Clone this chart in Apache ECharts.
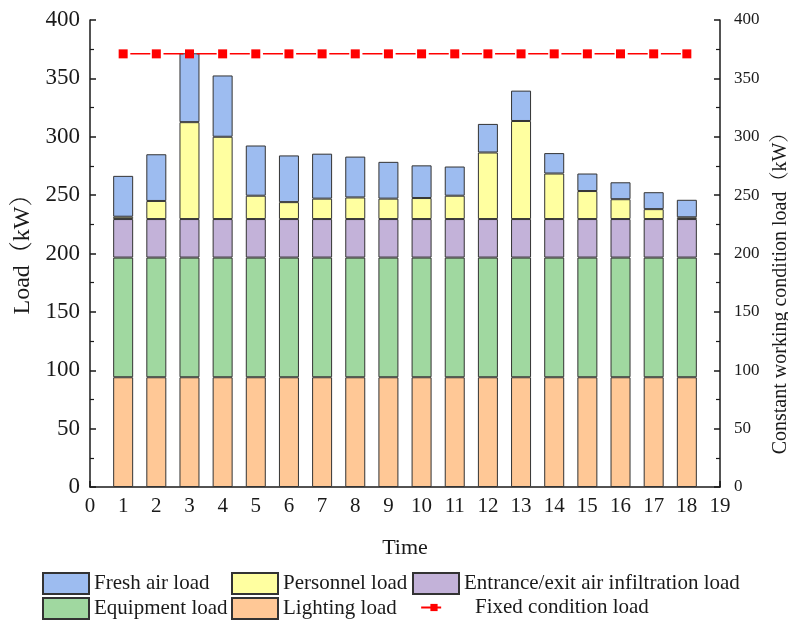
<!DOCTYPE html>
<html>
<head>
<meta charset="utf-8">
<script src="https://cdn.jsdelivr.net/npm/echarts@6/dist/echarts.min.js"></script>
<style>
  html, body { margin: 0; padding: 0; background: #ffffff; }
  #chart { width: 788px; height: 620px; }
</style>
</head>
<body>
<div id="chart"></div>
<script>
// Time axis tick labels; bars sit on hours 1..18
const timeTicks = ['0', '1', '2', '3', '4', '5', '6', '7', '8', '9', '10', '11', '12', '13', '14', '15', '16', '17', '18', '19'];
const hours = [1, 2, 3, 4, 5, 6, 7, 8, 9, 10, 11, 12, 13, 14, 15, 16, 17, 18];

// Hourly cooling load components (kW)
const lightingLoad = [94, 94, 94, 94, 94, 94, 94, 94, 94, 94, 94, 94, 94, 94, 94, 94, 94, 94];
const equipmentLoad = [102.5, 102.5, 102.5, 102.5, 102.5, 102.5, 102.5, 102.5, 102.5, 102.5, 102.5, 102.5, 102.5, 102.5, 102.5, 102.5, 102.5, 102.5];
const infiltrationLoad = [33, 33, 33, 33, 33, 33, 33, 33, 33, 33, 33, 33, 33, 33, 33, 33, 33, 33];
const personnelLoad = [2, 15.5, 83, 70.5, 20, 14.5, 17.5, 18.5, 17.5, 18, 20, 57, 84, 39, 24, 17, 8.5, 1.5];
const freshAirLoad = [35, 40, 59, 52.5, 43, 40, 38.5, 35, 31.5, 28, 25, 24.5, 26, 17.5, 15, 14.5, 14.5, 15];
const fixedConditionLoad = [371, 371, 371, 371, 371, 371, 371, 371, 371, 371, 371, 371, 371, 371, 371, 371, 371, 371];

const FONT = "'Liberation Serif', 'Times New Roman', 'Noto Serif CJK SC', 'Noto Sans CJK SC', serif";
const INK = '#1a1a1a';

// Spread hourly values over the tick slots (no value at 0 and 19)
const onTicks = (vals) => timeTicks.map((t) => {
  const i = hours.indexOf(Number(t));
  return i < 0 ? null : vals[i];
});

const barSeries = (name, vals, color) => ({
  name: name,
  type: 'bar',
  stack: 'load',
  barWidth: 20,
  data: onTicks(vals),
  itemStyle: { color: color, borderColor: '#333333', borderWidth: 1 },
  emphasis: { disabled: true }
});

const legendText = { fontFamily: FONT, fontSize: 21, color: INK };

const legendItem = (name, left, top, extra) => Object.assign({
  data: [{ name: name, icon: 'rect' }],
  left: left,
  top: top,
  padding: 0,
  orient: 'horizontal',
  itemWidth: 46,
  itemHeight: 21,
  itemGap: 0,
  selectedMode: false,
  textStyle: legendText
}, extra || {});

const chart = echarts.init(document.getElementById('chart'), null, { renderer: 'canvas' });

chart.setOption({
  animation: false,
  backgroundColor: '#ffffff',
  grid: { left: 90, right: 68, top: 20, bottom: 133, containLabel: false, outerBoundsMode: 'none' },
  xAxis: {
    type: 'category',
    data: timeTicks,
    boundaryGap: false,
    name: 'Time',
    nameLocation: 'middle',
    nameGap: 50,
    nameTextStyle: { fontFamily: FONT, fontSize: 22, color: INK },
    axisLine: { show: true, lineStyle: { color: INK, width: 1.5 } },
    axisTick: { show: true, inside: true, interval: 0, length: 6, lineStyle: { color: INK, width: 1.5 } },
    axisLabel: { interval: 0, fontFamily: FONT, fontSize: 21, color: INK, margin: 9 },
    splitLine: { show: false }
  },
  yAxis: [
    {
      type: 'value',
      min: 0,
      max: 400,
      interval: 50,
      position: 'left',
      name: 'Load（kW）',
      nameLocation: 'middle',
      nameRotate: 90,
      nameGap: 50,
      nameTextStyle: { fontFamily: FONT, fontSize: 24, color: INK, padding: [0, 0, 0, 10] },
      axisLine: { show: true, lineStyle: { color: INK, width: 1.5 } },
      axisTick: { show: true, inside: true, length: 6, lineStyle: { color: INK, width: 1.5 } },
      minorTick: { show: true, splitNumber: 2, length: 4, lineStyle: { color: INK, width: 1.2 } },
      axisLabel: { fontFamily: FONT, fontSize: 23, color: INK, margin: 10 },
      splitLine: { show: false }
    },
    {
      type: 'value',
      min: 0,
      max: 400,
      interval: 50,
      position: 'right',
      name: 'Constant working condition load（kW）',
      nameLocation: 'middle',
      nameRotate: 90,
      nameGap: 48,
      nameTextStyle: { fontFamily: FONT, fontSize: 20, color: INK, padding: [0, 70, 0, 0] },
      axisLine: { show: true, lineStyle: { color: INK, width: 1.5 } },
      axisTick: { show: true, inside: true, length: 6, lineStyle: { color: INK, width: 1.5 } },
      minorTick: { show: true, splitNumber: 2, length: 4, lineStyle: { color: INK, width: 1.2 } },
      axisLabel: { fontFamily: FONT, fontSize: 17, color: INK, margin: 14 },
      splitLine: { show: false }
    }
  ],
  legend: [
    legendItem('Fresh air load', 42, 572),
    legendItem('Personnel load', 231, 572),
    legendItem('Entrance/exit air infiltration load', 412, 572),
    legendItem('Equipment load', 42, 597),
    legendItem('Lighting load', 231, 597),
    {
      data: ['Fixed condition load'],
      left: 413,
      top: 597,
      padding: 0,
      itemWidth: 40,
      itemHeight: 9,
      itemGap: 0,
      selectedMode: false,
      textStyle: { fontFamily: FONT, fontSize: 21, color: INK, padding: [0, 0, 0, 16] }
    }
  ],
  series: [
    barSeries('Lighting load', lightingLoad, '#ffc896'),
    barSeries('Equipment load', equipmentLoad, '#a0d8a0'),
    barSeries('Entrance/exit air infiltration load', infiltrationLoad, '#c3b2d9'),
    barSeries('Personnel load', personnelLoad, '#ffffa0'),
    barSeries('Fresh air load', freshAirLoad, '#9dbcf0'),
    {
      name: 'Fixed condition load',
      type: 'line',
      yAxisIndex: 1,
      data: onTicks(fixedConditionLoad),
      symbol: 'rect',
      symbolSize: 9,
      z: 5,
      itemStyle: { color: '#ff0000' },
      lineStyle: { color: '#ff0000', width: 1.5, type: [20, 13.16], dashOffset: 26 },
      emphasis: { disabled: true }
    }
  ]
});
</script>
</body>
</html>
